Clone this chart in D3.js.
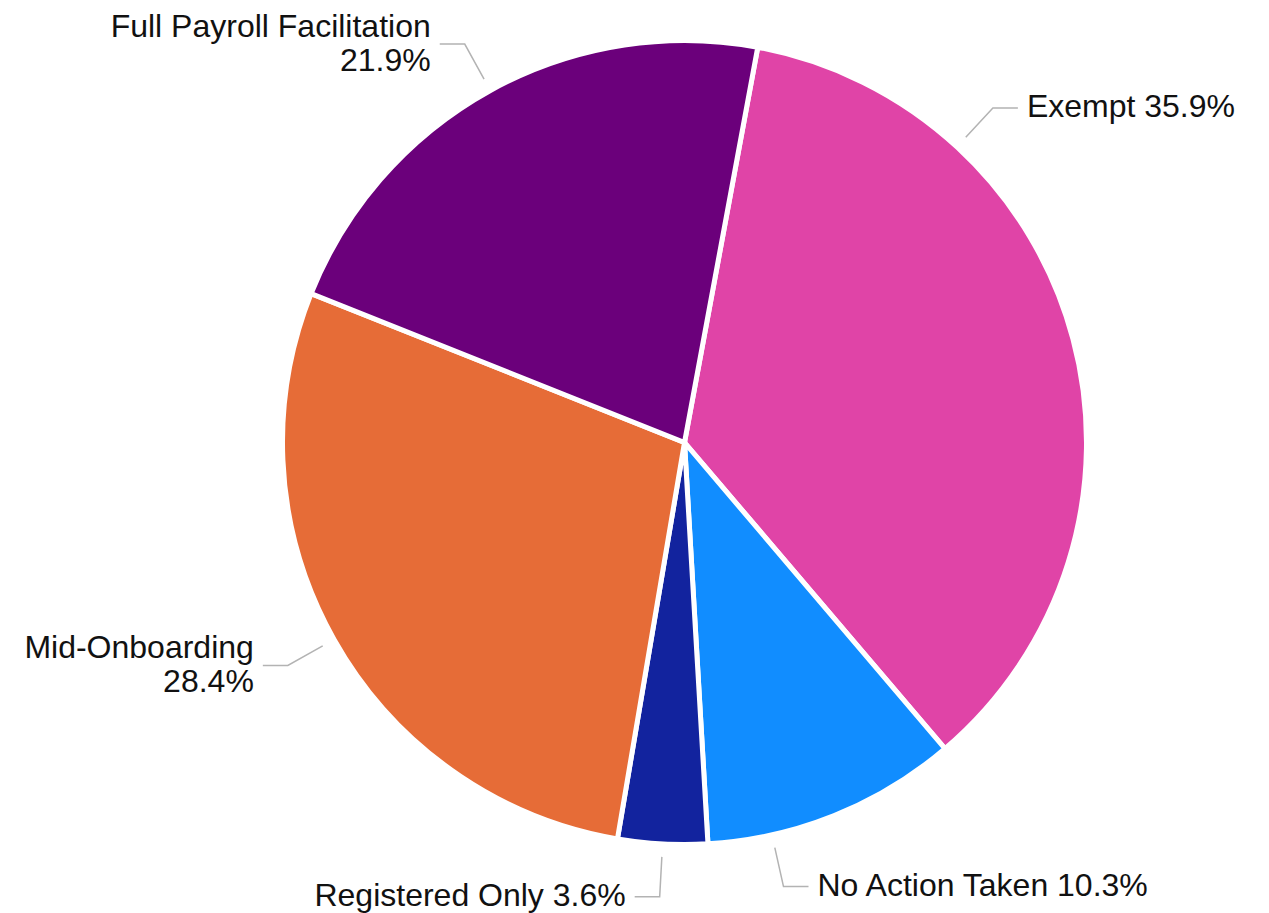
<!DOCTYPE html>
<meta charset="utf-8">
<style>
body { margin: 0; background: #fff; }
.slice { stroke: #fff; stroke-width: 5px; }
.leader { fill: none; stroke: #b3b3b3; stroke-width: 1.5px; }
.label { font: 32px "Liberation Sans", Arial, sans-serif; fill: #111; }
</style>
<svg width="1269" height="913"></svg>
<script src="https://cdn.jsdelivr.net/npm/d3@7"></script>
<script>

var categories = ["Exempt", "No Action Taken", "Registered Only", "Mid-Onboarding", "Full Payroll Facilitation"];
var shares = [35.9, 10.3, 3.6, 28.4, 21.9];
var colors = ["#E044A7", "#118DFF", "#12239E", "#E66C37", "#6B007B"];

// labels that get the value on a second line
var twoLine = ["Mid-Onboarding", "Full Payroll Facilitation"];
// small extra turn (degrees) for a label's leader
var labelNudge = {"No Action Taken": 9.3};

var svg = d3.select("svg"),
    width = +svg.attr("width"),
    height = +svg.attr("height"),
    cx = 684.5, cy = 442.5,
    radius = 402,
    pad = 34,
    lineH = 34;

var data = categories.map(function(c, i) { return {name: c, value: shares[i], color: colors[i]}; });

var startA = 10.5 * Math.PI / 180;
var pie = d3.pie()
    .sort(null)
    .value(function(d) { return d.value; })
    .startAngle(startA)
    .endAngle(startA + 2 * Math.PI);

var arc = d3.arc().innerRadius(0).outerRadius(radius);

var g = svg.append("g").attr("transform", "translate(" + cx + "," + cy + ")");

var arcs = pie(data);

g.selectAll(".slice")
    .data(arcs)
  .enter().append("path")
    .attr("class", "slice")
    .attr("d", arc)
    .attr("fill", function(d) { return d.data.color; });

function pt(a, r) { return [r * Math.sin(a), -r * Math.cos(a)]; }

var rStart = radius + 13, rBend = radius + 53, hook = 25, gap = 9;

arcs.forEach(function(d) {
  var name = d.data.name,
      pct = d.data.value.toFixed(1) + "%",
      lines = twoLine.indexOf(name) >= 0 ? [name, pct] : [name + " " + pct];

  var t = g.append("text").attr("class", "label");
  t.selectAll("tspan").data(lines).enter().append("tspan").text(function(s) { return s; });
  var w = d3.max(t.selectAll("tspan").nodes(), function(n) { return n.getComputedTextLength(); });

  var a = (d.startAngle + d.endAngle) / 2;
  a += (labelNudge[name] || 0) * Math.PI / 180;
  var right = Math.sin(a) >= 0;

  // keep right-hand labels inside the frame by turning them toward the top
  if (right) {
    var maxX = width - pad - w - gap - hook - cx;
    if (rBend * Math.sin(a) > maxX) {
      var up = Math.asin(maxX / rBend);
      a = Math.cos(a) > 0 ? up : Math.PI - up;
    }
  }

  var p0 = pt(a, rStart), p1 = pt(a, rBend),
      p2 = [p1[0] + (right ? hook : -hook), p1[1]];

  g.append("path")
      .attr("class", "leader")
      .attr("d", d3.line()([p0, p1, p2]));

  var x = p2[0] + (right ? gap : -gap),
      yTop = p1[1] - 2 - (lines.length - 1) * lineH / 2;

  t.attr("text-anchor", right ? "start" : "end");
  t.selectAll("tspan")
      .attr("x", x)
      .attr("y", function(s, i) { return yTop + i * lineH; })
      .attr("dy", "0.36em");
});

</script>
